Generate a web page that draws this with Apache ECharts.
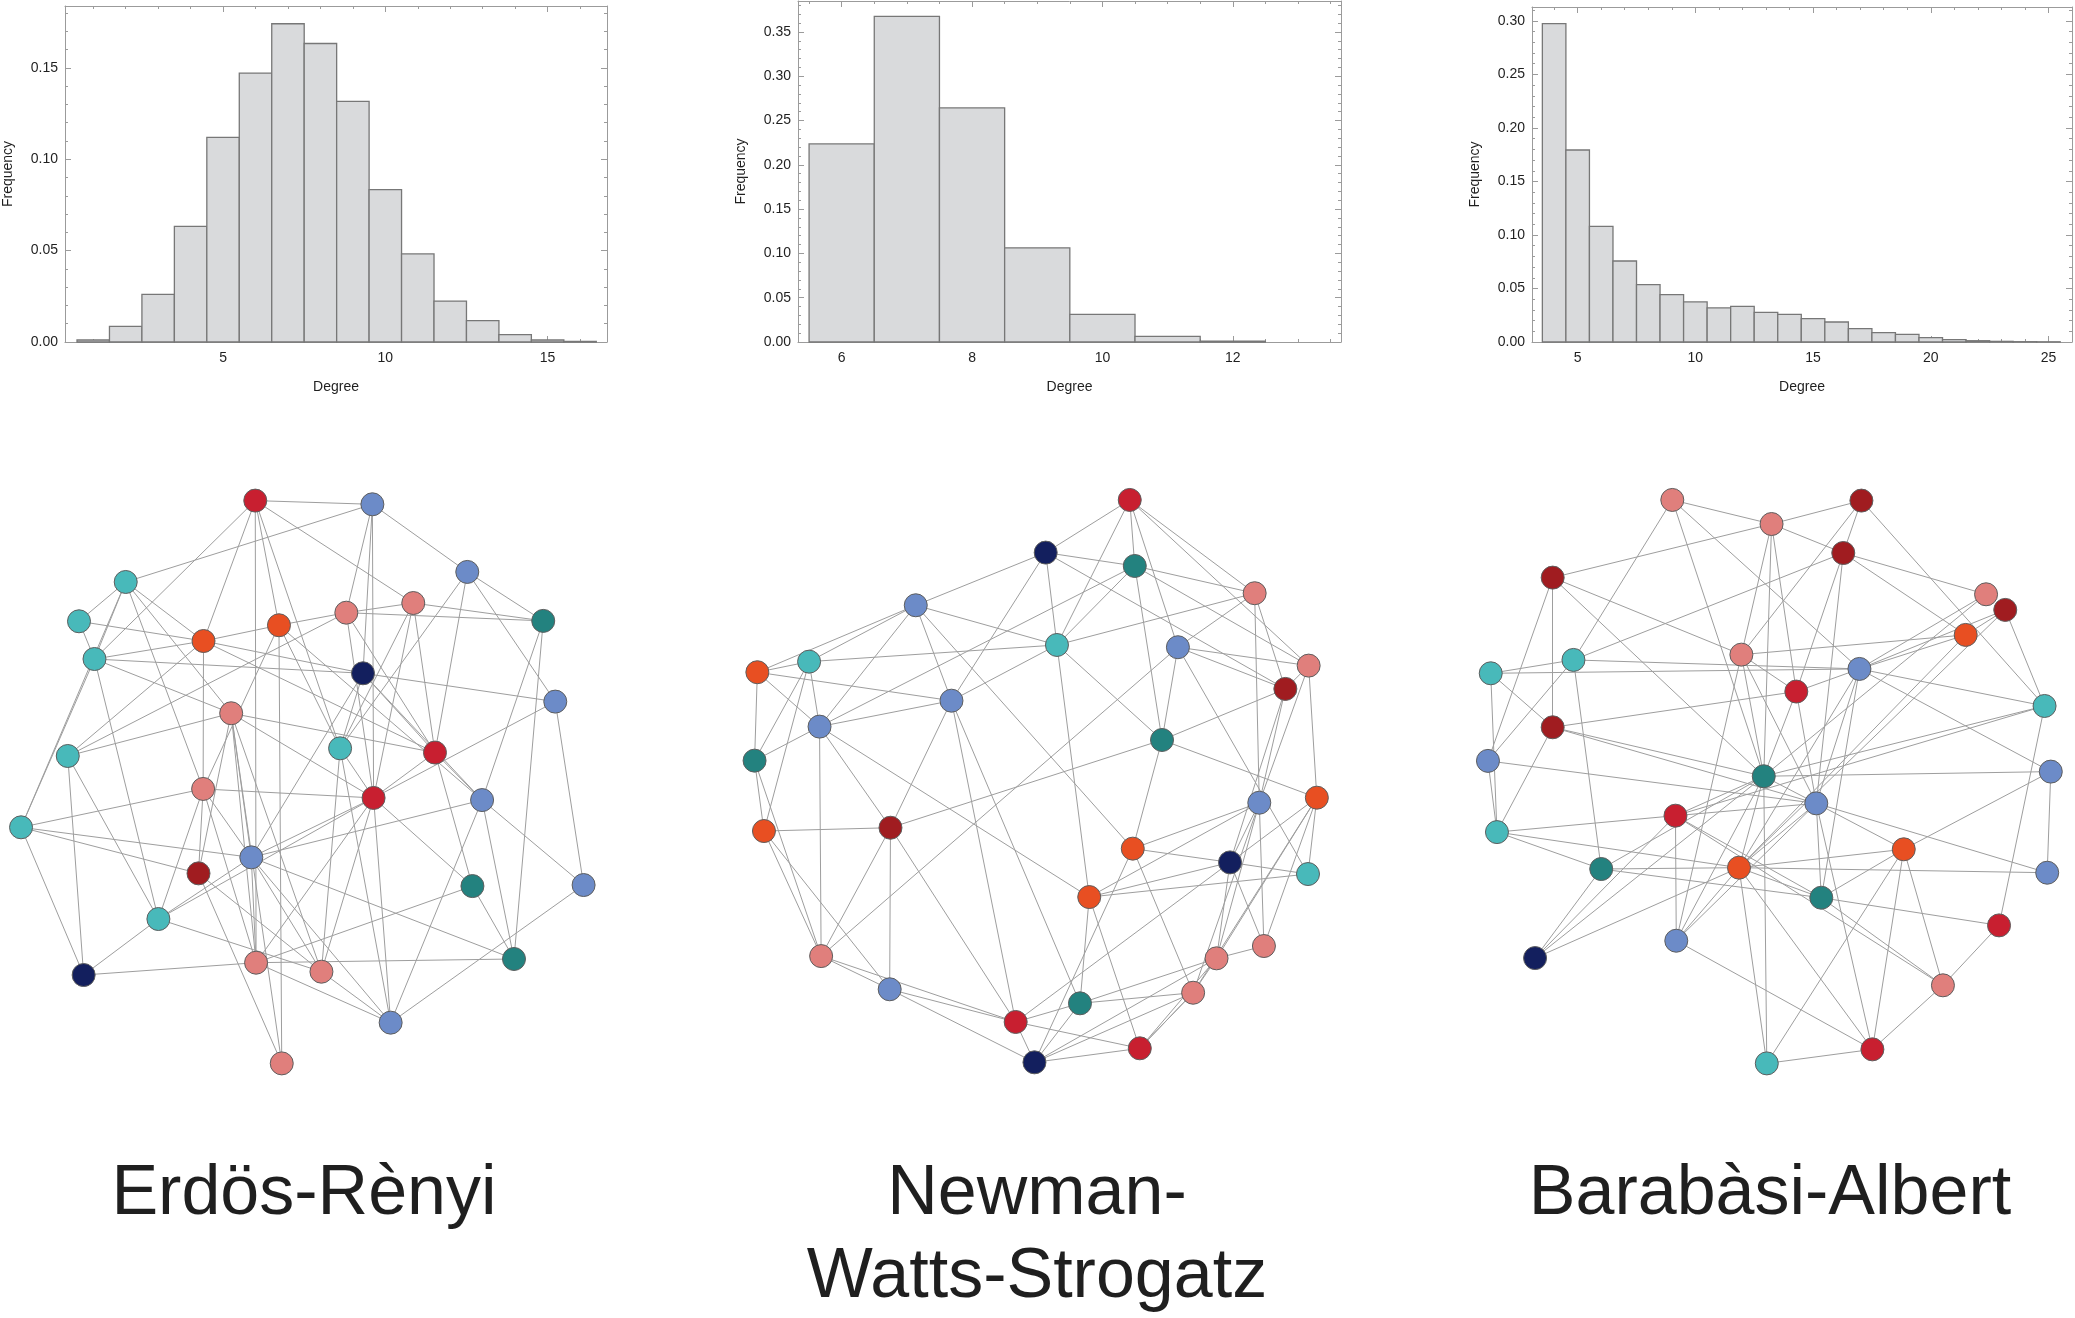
<!DOCTYPE html>
<html>
<head>
<meta charset="utf-8">
<title>Degree distributions and sample networks</title>
<script src="https://cdn.jsdelivr.net/npm/echarts@6.0.0/dist/echarts.min.js"></script>
<style>
  html, body { margin: 0; padding: 0; background: #ffffff; }
  #viz { width: 2075px; height: 1318px; }
</style>
</head>
<body>
<div id="viz"></div>
<script>
// Degree histograms (bin centre, relative frequency)
const erDegree = [1, 2, 3, 4, 5, 6, 7, 8, 9, 10, 11, 12, 13, 14, 15, 16];
const erFreq = [0.0011, 0.0086, 0.0261, 0.0633, 0.1119, 0.1471, 0.1741, 0.1633,
                0.1316, 0.0834, 0.0482, 0.0224, 0.0117, 0.0040, 0.0011, 0.0003];
const erDegreeTicks = [5, 10, 15];
const erFreqTicks = [0, 0.05, 0.10, 0.15];

const nwsDegree = [6, 7, 8, 9, 10, 11, 12];
const nwsFreq = [0.2236, 0.3676, 0.2643, 0.1063, 0.0313, 0.0064, 0.0011];
const nwsDegreeTicks = [6, 8, 10, 12];
const nwsFreqTicks = [0, 0.05, 0.10, 0.15, 0.20, 0.25, 0.30, 0.35];

const baDegree = [4, 5, 6, 7, 8, 9, 10, 11, 12, 13, 14, 15, 16, 17, 18, 19, 20, 21, 22, 23, 24, 25];
const baFreq = [0.2975, 0.1794, 0.1081, 0.0757, 0.0536, 0.0442, 0.0374, 0.0318, 0.0333, 0.0277, 0.0259,
                0.0218, 0.0187, 0.0125, 0.0087, 0.0072, 0.0040, 0.0022, 0.0012, 0.0006, 0.0003, 0.0002];
const baDegreeTicks = [5, 10, 15, 20, 25];
const baFreqTicks = [0, 0.05, 0.10, 0.15, 0.20, 0.25, 0.30];

// Sample networks: node layout positions, node colour class, edges (node index pairs)
const erNodeX = [192.9, 281.4, 95.0, 59.7, 71.4, 153.8, 210.8, 261.7, 312.3, 353.1, 410.5, 274.3, 419.6, 174.7, 51.2, 257.0,
                 328.7, 153.5, 282.3, 364.3, 15.9, 150.0, 189.9, 357.0, 441.0, 119.7, 193.5, 242.9, 388.4, 63.2, 295.2, 212.9];
const erNodeY = [378.3, 381.1, 439.8, 469.5, 498.0, 484.4, 472.5, 463.0, 455.7, 432.2, 469.2, 508.8, 530.2, 539.0, 571.3, 565.5,
                 568.7, 596.2, 603.0, 604.6, 625.2, 660.0, 647.9, 669.6, 668.8, 694.5, 727.5, 734.3, 724.7, 736.8, 772.8, 803.6];
const erNodeColor = ['red', 'blue', 'cyan', 'cyan', 'cyan', 'orange', 'orange', 'salmon', 'salmon', 'blue', 'teal', 'navy',
                     'blue', 'salmon', 'cyan', 'cyan', 'red', 'salmon', 'red', 'blue', 'cyan', 'darkred', 'blue', 'teal',
                     'blue', 'cyan', 'salmon', 'salmon', 'teal', 'navy', 'blue', 'salmon'];
const erEdges = [[0,1],[0,4],[0,5],[0,26],[0,6],[0,15],[0,8],[1,2],[1,9],[9,10],[1,7],[1,18],[1,11],[2,3],[2,4],[2,5],
                 [2,13],[2,17],[2,20],[3,5],[3,4],[4,5],[4,11],[4,20],[4,13],[4,25],[5,6],[5,17],[5,14],[5,11],[5,16],
                 [6,7],[6,17],[6,15],[6,19],[7,8],[7,10],[7,14],[7,16],[7,18],[8,10],[8,15],[8,16],[8,18],[9,12],[9,16],
                 [9,15],[10,19],[10,28],[11,12],[11,16],[11,19],[11,22],[11,15],[12,18],[12,24],[13,14],[13,16],[13,18],
                 [13,26],[13,27],[13,22],[13,21],[15,18],[15,27],[15,30],[16,19],[16,18],[16,23],[17,18],[17,26],[20,17],
                 [20,22],[20,21],[20,29],[14,29],[14,25],[17,21],[17,22],[17,25],[18,22],[18,25],[18,23],[18,27],[18,26],
                 [18,30],[19,22],[19,24],[19,28],[19,30],[22,26],[22,27],[22,30],[22,28],[22,25],[21,27],[21,31],[25,27],
                 [25,29],[23,26],[23,28],[26,29],[26,28],[26,30],[27,30],[24,30],[31,6],[31,13]];

const nwsNodeX = [853.7, 790.2, 857.5, 948.1, 692.0, 798.7, 890.1, 988.9, 572.3, 611.4, 971.3, 719.0, 619.3, 878.1, 570.2, 951.6,
                  995.1, 577.3, 672.9, 856.0, 929.5, 988.4, 823.1, 620.5, 955.1, 919.3, 672.3, 901.6, 816.1, 767.5, 861.3, 781.7];
const nwsNodeY = [377.8, 417.6, 427.7, 448.3, 457.4, 487.4, 489.1, 503.0, 508.0, 500.0, 520.6, 529.5, 549.1, 559.2, 574.8, 606.6,
                  602.8, 628.0, 625.5, 641.3, 651.7, 660.5, 677.9, 722.5, 714.9, 724.2, 747.6, 750.2, 758.2, 772.3, 792.2, 802.8];
const nwsNodeColor = ['red', 'navy', 'teal', 'salmon', 'blue', 'cyan', 'blue', 'salmon', 'orange', 'cyan', 'darkred', 'blue',
                      'blue', 'teal', 'teal', 'blue', 'orange', 'orange', 'darkred', 'orange', 'navy', 'cyan', 'orange', 'salmon',
                      'salmon', 'salmon', 'blue', 'salmon', 'teal', 'red', 'red', 'navy'];
const nwsEdges = [[0,1],[0,2],[0,5],[0,3],[0,7],[0,6],[1,2],[1,4],[1,5],[1,11],[1,10],[2,3],[2,5],[2,12],[2,13],[2,7],
                  [3,5],[3,6],[3,10],[3,15],[4,9],[4,8],[4,5],[4,11],[4,12],[4,19],[5,9],[5,11],[5,22],[5,13],[6,7],[6,10],
                  [6,13],[6,23],[6,21],[7,10],[7,15],[7,16],[8,9],[8,11],[8,12],[8,14],[9,12],[9,14],[9,17],[10,13],[10,15],
                  [10,20],[11,12],[11,29],[11,28],[11,18],[12,14],[12,23],[12,18],[12,22],[13,19],[13,16],[13,18],[14,17],
                  [14,23],[17,18],[17,23],[17,26],[18,26],[18,23],[18,29],[23,26],[23,29],[26,29],[26,31],[29,31],[29,28],
                  [29,30],[29,20],[31,28],[31,30],[31,27],[31,25],[31,19],[28,22],[28,27],[28,25],[30,22],[30,27],[30,25],
                  [22,20],[22,21],[22,15],[19,20],[19,15],[19,27],[20,21],[20,15],[20,16],[20,25],[20,24],[15,25],[15,27],
                  [15,24],[16,21],[16,25],[16,27],[16,24],[24,25],[25,27],[27,30]];

const baNodeX = [1263.7, 1406.6, 1338.7, 1392.9, 1173.3, 1500.8, 1515.3, 1485.4, 1126.5, 1189.0, 1315.9, 1405.1, 1357.4, 1545.0,
                 1173.3, 1124.4, 1332.8, 1549.7, 1372.5, 1131.2, 1266.1, 1210.0, 1314.1, 1438.6, 1376.3, 1547.0, 1510.6, 1160.0,
                 1266.7, 1468.2, 1335.1, 1414.9];
const baNodeY = [377.8, 378.3, 396.0, 417.9, 436.5, 449.1, 460.9, 479.8, 508.8, 498.7, 494.7, 505.5, 522.6, 533.5, 549.6, 575.0,
                 586.6, 583.1, 607.1, 628.8, 616.4, 656.7, 655.7, 641.8, 678.4, 659.5, 699.3, 724.0, 710.9, 744.6, 803.6, 793.0];
const baNodeColor = ['salmon', 'darkred', 'salmon', 'darkred', 'darkred', 'salmon', 'darkred', 'orange', 'cyan', 'cyan', 'salmon',
                     'blue', 'red', 'cyan', 'darkred', 'blue', 'teal', 'blue', 'blue', 'cyan', 'red', 'teal', 'orange', 'orange',
                     'teal', 'blue', 'red', 'navy', 'blue', 'salmon', 'cyan', 'red'];
const baEdges = [[0,2],[0,9],[0,16],[0,11],[2,4],[2,1],[2,3],[2,10],[2,16],[2,12],[1,3],[1,10],[1,13],[3,5],[3,7],[3,9],
                 [3,12],[3,18],[4,14],[4,15],[4,10],[4,16],[5,11],[5,16],[6,7],[6,11],[6,13],[6,22],[7,10],[7,11],[7,22],
                 [8,9],[8,11],[8,14],[8,19],[9,11],[9,15],[9,21],[10,12],[10,16],[10,18],[10,28],[11,12],[11,13],[11,17],
                 [11,18],[11,22],[11,24],[12,14],[12,16],[12,18],[13,16],[13,20],[14,16],[14,18],[14,19],[15,18],[15,19],
                 [16,17],[16,18],[17,25],[19,20],[19,21],[19,22],[20,16],[20,18],[20,28],[20,24],[20,29],[21,22],[21,24],
                 [21,16],[21,27],[22,23],[22,25],[22,24],[22,16],[22,18],[22,28],[22,27],[22,30],[22,31],[23,18],[23,24],
                 [23,31],[23,17],[23,29],[23,30],[24,26],[24,29],[24,18],[18,25],[26,29],[26,13],[27,16],[27,20],[28,16],
                 [28,18],[28,31],[29,31],[30,16],[30,31],[31,18]];

const nodeColors = {
    red: '#c81f30', blue: '#6c8bc8', cyan: '#48b9ba', teal: '#23827f',
    salmon: '#e07f7c', orange: '#e84f22', navy: '#131f5e', darkred: '#a01c20'
};

const FONT = '"Liberation Sans", Arial, Helvetica, sans-serif';
const INK = '#1f1f1f';
const FRAME = '#9b9b9b';

// Plot frames of the three histograms (pixels on the page) and their axis extents
const histFrames = [
    { left: 64, top: 6, width: 543, height: 336 },
    { left: 798, top: 1, width: 543, height: 341 },
    { left: 1532, top: 7, width: 542, height: 335 }
];

function sameTick(list, v) {
    return list.some(t => Math.abs(t - v) < 1e-7);
}

// bottom + top frame axes, each with major and minor ticks
function histXAxes(g, range, majorSplit, minorSplit, ticks) {
    const base = { gridIndex: g, type: 'value', min: range[0], max: range[1], splitLine: { show: false } };
    const major = { inside: true, length: 6, lineStyle: { color: FRAME } };
    const minor = { inside: true, length: 3, lineStyle: { color: FRAME } };
    return [
        Object.assign({}, base, {
            position: 'bottom', splitNumber: majorSplit,
            axisLine: { show: true, onZero: false, lineStyle: { color: FRAME, width: 1 } },
            axisTick: major,
            axisLabel: {
                color: INK, fontSize: 14, fontFamily: FONT, margin: 9,
                formatter: v => sameTick(ticks, v) ? String(Math.round(v)) : ''
            },
            name: 'Degree', nameLocation: 'middle', nameGap: 38,
            nameTextStyle: { color: INK, fontSize: 14, fontFamily: FONT }
        }),
        Object.assign({}, base, {
            position: 'bottom', splitNumber: minorSplit,
            axisLine: { show: false, onZero: false }, axisTick: minor, axisLabel: { show: false }
        }),
        Object.assign({}, base, {
            position: 'top', splitNumber: majorSplit,
            axisLine: { show: true, onZero: false, lineStyle: { color: FRAME, width: 1 } },
            axisTick: major, axisLabel: { show: false }
        }),
        Object.assign({}, base, {
            position: 'top', splitNumber: minorSplit,
            axisLine: { show: false, onZero: false }, axisTick: minor, axisLabel: { show: false }
        })
    ];
}

// left + right frame axes
function histYAxes(g, maxVal, ticks) {
    const base = { gridIndex: g, type: 'value', min: 0, max: maxVal, splitLine: { show: false } };
    const major = { inside: true, length: 6, lineStyle: { color: FRAME } };
    const minor = { inside: true, length: 3, lineStyle: { color: FRAME } };
    return [
        Object.assign({}, base, {
            position: 'left', interval: 0.05,
            axisLine: { show: true, onZero: false, lineStyle: { color: FRAME, width: 1 } },
            axisTick: major,
            axisLabel: {
                color: INK, fontSize: 14, fontFamily: FONT, margin: 7,
                formatter: v => sameTick(ticks, v) ? v.toFixed(2) : ''
            },
            name: 'Frequency', nameLocation: 'middle', nameGap: 50, nameRotate: 90,
            nameTextStyle: { color: INK, fontSize: 14, fontFamily: FONT }
        }),
        Object.assign({}, base, {
            position: 'left', interval: 0.01,
            axisLine: { show: false, onZero: false }, axisTick: minor, axisLabel: { show: false }
        }),
        Object.assign({}, base, {
            position: 'right', interval: 0.05,
            axisLine: { show: true, onZero: false, lineStyle: { color: FRAME, width: 1 } },
            axisTick: major, axisLabel: { show: false }
        }),
        Object.assign({}, base, {
            position: 'right', interval: 0.01,
            axisLine: { show: false, onZero: false }, axisTick: minor, axisLabel: { show: false }
        })
    ];
}

function histSeries(g, degrees, freqs) {
    return {
        type: 'custom',
        xAxisIndex: g * 4,
        yAxisIndex: g * 4,
        data: degrees.map((d, i) => [d, freqs[i]]),
        renderItem: function (params, api) {
            const d = api.value(0);
            const f = api.value(1);
            const p0 = api.coord([d - 0.5, 0]);
            const p1 = api.coord([d + 0.5, f]);
            return {
                type: 'rect',
                shape: { x: p0[0], y: p1[1], width: p1[0] - p0[0], height: p0[1] - p1[1] },
                style: { fill: '#d9dadc', stroke: '#777777', lineWidth: 1.3 }
            };
        }
    };
}

function networkSeries(xs, ys, colors, edges) {
    return {
        type: 'graph',
        coordinateSystem: 'cartesian2d',
        xAxisIndex: 12,
        yAxisIndex: 12,
        symbol: 'circle',
        symbolSize: 23,
        data: xs.map((x, i) => ({
            value: [x, ys[i]],
            itemStyle: { color: nodeColors[colors[i]] }
        })),
        links: edges.map(e => ({ source: e[0], target: e[1] })),
        itemStyle: { borderColor: '#5e5e5e', borderWidth: 1 },
        lineStyle: { color: '#9e9e9e', width: 1, opacity: 1, curveness: 0 },
        label: { show: false },
        emphasis: { disabled: true },
        silent: true
    };
}

var myChart = echarts.init(document.getElementById('viz'));

var xAxes = []
    .concat(histXAxes(0, [0.13, 16.83], 3, 16, erDegreeTicks))
    .concat(histXAxes(1, [5.33, 13.66], 4, 16, nwsDegreeTicks))
    .concat(histXAxes(2, [3.06, 26.0], 5, 22, baDegreeTicks));
var yAxes = []
    .concat(histYAxes(0, 0.1838, erFreqTicks))
    .concat(histYAxes(1, 0.385, nwsFreqTicks))
    .concat(histYAxes(2, 0.313, baFreqTicks));

// layout space of the network drawings
xAxes.push({ gridIndex: 3, type: 'value', min: 0, max: 1568, show: false });
yAxes.push({ gridIndex: 3, type: 'value', min: 0, max: 996, inverse: true, show: false });

var titleFont = 'normal 70px ' + FONT;

var option = {
    animation: false,
    backgroundColor: '#ffffff',
    grid: histFrames.concat([{ left: 0, top: 0, width: 2075, height: 1318 }]),
    xAxis: xAxes,
    yAxis: yAxes,
    series: [
        histSeries(0, erDegree, erFreq),
        histSeries(1, nwsDegree, nwsFreq),
        histSeries(2, baDegree, baFreq),
        networkSeries(erNodeX, erNodeY, erNodeColor, erEdges),
        networkSeries(nwsNodeX, nwsNodeY, nwsNodeColor, nwsEdges),
        networkSeries(baNodeX, baNodeY, baNodeColor, baEdges)
    ],
    graphic: [
        { type: 'text', x: 304, y: 1195, style: { text: 'Erdös-Rènyi', font: titleFont, fill: INK, textAlign: 'center', textVerticalAlign: 'middle' } },
        { type: 'text', x: 1037, y: 1195, style: { text: 'Newman-', font: titleFont, fill: INK, textAlign: 'center', textVerticalAlign: 'middle' } },
        { type: 'text', x: 1037, y: 1278, style: { text: 'Watts-Strogatz', font: titleFont, fill: INK, textAlign: 'center', textVerticalAlign: 'middle' } },
        { type: 'text', x: 1770, y: 1195, style: { text: 'Barabàsi-Albert', font: titleFont, fill: INK, textAlign: 'center', textVerticalAlign: 'middle' } }
    ]
};

myChart.setOption(option);
</script>
</body>
</html>
